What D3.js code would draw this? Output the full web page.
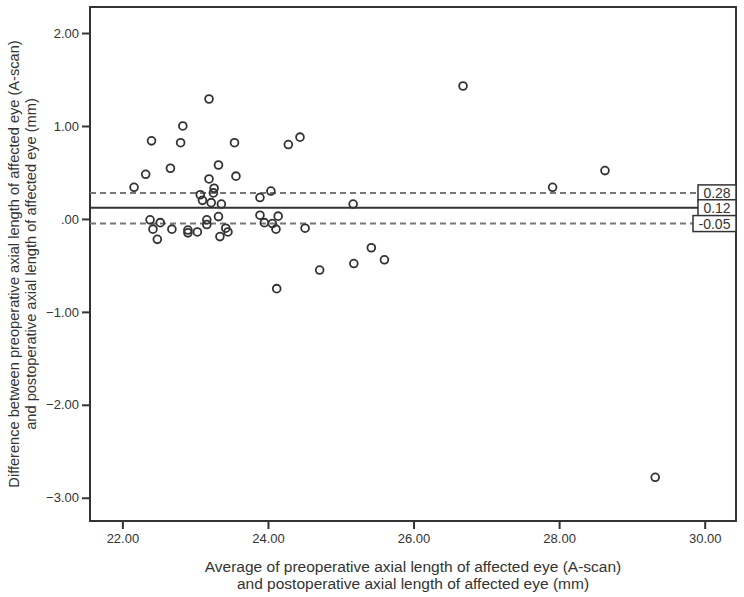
<!DOCTYPE html>
<html>
<head>
<meta charset="utf-8">
<script src="https://cdn.jsdelivr.net/npm/d3@7"></script>
<style>
  body { margin: 0; background: #fff; }
  text { font-family: "Liberation Sans", Arial, sans-serif; fill: #333; }
</style>
</head>
<body>
<div id="chart"></div>
<script>
// average axial length (x) and difference (y)
var avgLen = [22.16, 22.32, 22.40, 22.38, 22.52, 22.42, 22.48, 22.66, 22.68, 22.80,
              22.83, 22.90, 22.90, 23.03, 23.07, 23.10, 23.16, 23.16, 23.19, 23.19,
              23.26, 23.25, 23.22, 23.32, 23.36, 23.32, 23.34, 23.42, 23.45, 23.54,
              23.56, 23.89, 24.04, 23.89, 23.95, 24.06, 24.14, 24.11, 24.28, 24.44,
              24.51, 24.12, 24.71, 25.17, 25.18, 25.42, 25.60, 26.68, 27.91, 28.63,
              29.32];
var diffLen = [0.34, 0.48, 0.84, -0.01, -0.04, -0.11, -0.22, 0.545, -0.11, 0.82,
               1.00, -0.12, -0.15, -0.14, 0.26, 0.20, -0.01, -0.06, 1.29, 0.43,
               0.33, 0.28, 0.175, 0.58, 0.16, 0.025, -0.19, -0.10, -0.14, 0.82,
               0.46, 0.23, 0.30, 0.04, -0.04, -0.05, 0.03, -0.11, 0.80, 0.88,
               -0.10, -0.75, -0.55, 0.16, -0.48, -0.31, -0.44, 1.43, 0.34, 0.52,
               -2.78];
var refLines = [0.28, 0.12, -0.05];
var refLabels = ["0.28", "0.12", "-0.05"];
var xTicks = [22, 24, 26, 28, 30];
var yTicks = [2, 1, 0, -1, -2, -3];

var W = 744, H = 597;
var pLeft = 90, pRight = 736, pTop = 7, pBottom = 521;

var svg = d3.select("#chart").append("svg")
  .attr("width", W).attr("height", H);

var x = d3.scaleLinear().domain([21.555, 30.43]).range([pLeft, pRight]);
var y = d3.scaleLinear().domain([-3.25, 2.28]).range([pBottom, pTop]);

function fmt(v) {
  // SPSS style: .00 for zero
  return v == 0 ? ".00" : d3.format(".2f")(v);
}

// frame
svg.append("rect")
  .attr("x", pLeft).attr("y", pTop)
  .attr("width", pRight - pLeft).attr("height", pBottom - pTop)
  .attr("fill", "none").attr("stroke", "#333").attr("stroke-width", 2);

// axes
var xAxis = svg.append("g")
  .attr("transform", "translate(0," + pBottom + ")")
  .call(d3.axisBottom(x).tickValues(xTicks).tickFormat(fmt).tickSize(8).tickPadding(5));
var yAxis = svg.append("g")
  .attr("transform", "translate(" + pLeft + ",0)")
  .call(d3.axisLeft(y).tickValues(yTicks).tickFormat(fmt).tickSize(8).tickPadding(3));
[xAxis, yAxis].forEach(function (a) {
  a.select(".domain").remove();
  a.selectAll(".tick line").attr("stroke", "#333").attr("stroke-width", 2);
  a.selectAll(".tick text")
    .style("font-size", "13px").attr("fill", "#333");
});

// mean and limits of agreement
var boxW = [38, 38, 43];
refLines.forEach(function (v, i) {
  var bx = pRight - boxW[i];
  svg.append("line")
    .attr("x1", pLeft).attr("x2", bx)
    .attr("y1", y(v)).attr("y2", y(v))
    .attr("stroke", i == 1 ? "#333" : "#777")
    .attr("stroke-width", i == 1 ? 1.8 : 2)
    .attr("stroke-dasharray", i == 1 ? null : "6,4");
});
refLines.forEach(function (v, i) {
  var bx = pRight - boxW[i];
  svg.append("rect")
    .attr("x", bx).attr("y", y(v) - 8)
    .attr("width", boxW[i]).attr("height", 16)
    .attr("fill", "#fff").attr("stroke", "#333").attr("stroke-width", 1.5);
  svg.append("text")
    .attr("x", bx + boxW[i] / 2).attr("y", y(v) + 5.5)
    .attr("text-anchor", "middle")
    .style("font-size", "14px")
    .text(refLabels[i]);
});

// points
svg.append("g").selectAll("circle")
  .data(d3.range(avgLen.length))
  .enter().append("circle")
  .attr("cx", function (i) { return x(avgLen[i]); })
  .attr("cy", function (i) { return y(diffLen[i]); })
  .attr("r", 3.9)
  .attr("fill", "none")
  .attr("stroke", "#333")
  .attr("stroke-width", 1.8);

// axis titles
var xt = svg.append("text")
  .attr("x", (pLeft + pRight) / 2).attr("y", 572)
  .attr("text-anchor", "middle")
  .style("font-size", "15.5px");
xt.append("tspan").attr("x", (pLeft + pRight) / 2).attr("dy", 0)
  .text("Average of preoperative axial length of affected eye (A-scan)");
xt.append("tspan").attr("x", (pLeft + pRight) / 2).attr("dy", 17)
  .text("and postoperative axial length of affected eye (mm)");

var yt = svg.append("text")
  .attr("transform", "translate(19," + (pTop + pBottom) / 2 + ") rotate(-90)")
  .attr("text-anchor", "middle")
  .style("font-size", "14.6px");
yt.append("tspan").attr("x", 0).attr("dy", 0)
  .text("Difference between preoperative axial length of affected eye (A-scan)");
yt.append("tspan").attr("x", 0).attr("dy", 17)
  .text("and postoperative axial length of affected eye (mm)");
</script>
</body>
</html>
